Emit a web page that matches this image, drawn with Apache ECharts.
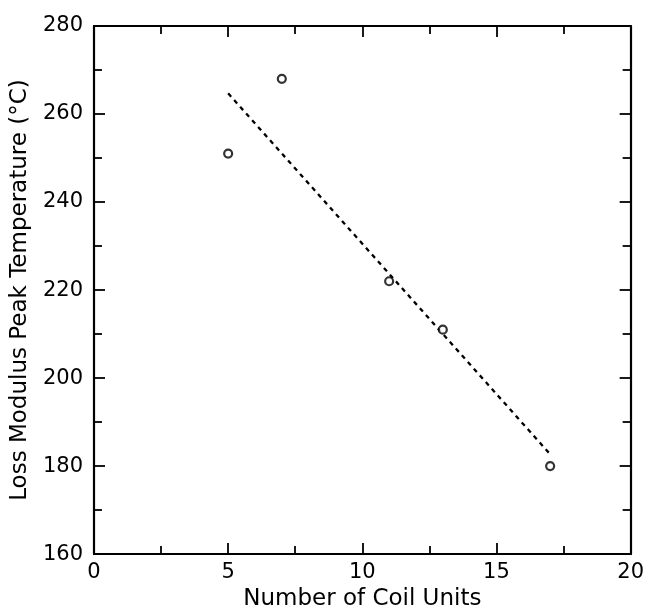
<!DOCTYPE html>
<html>
<head>
<meta charset="utf-8">
<script src="https://cdn.jsdelivr.net/npm/echarts@6/dist/echarts.min.js"></script>
<style>
html,body{margin:0;padding:0;background:#fff;}
#chart{width:647px;height:616px;}
</style>
</head>
<body>
<div id="chart"></div>
<script>
// Data
var coilUnits = [5, 7, 11, 13, 17];
var peakTemp = [251, 268, 222, 211, 180];
// Dashed fit line endpoints
var fitX = [5, 17];
var fitY = [264.7, 182.7];

var xTitle = 'Number of Coil Units';
var yTitle = 'Loss Modulus Peak Temperature (°C)';

var FONT = 'DejaVu Sans';

var pts = coilUnits.map(function (x, i) { return [x, peakTemp[i]]; });
var fit = fitX.map(function (x, i) { return [x, fitY[i]]; });

var chart = echarts.init(document.getElementById('chart'), null, {renderer: 'canvas'});

var axisLine = {show: true, onZero: false, lineStyle: {color: '#000', width: 2.2}};
var majorTick = {show: true, inside: true, length: 11, lineStyle: {color: '#000', width: 1.8}};
var minorTick = {show: true, splitNumber: 2, length: 8, lineStyle: {color: '#000', width: 1.8}};

chart.setOption({
  animation: false,
  backgroundColor: '#fff',
  grid: {left: 94, right: 15, top: 26, bottom: 52, containLabel: false},
  xAxis: [{
    type: 'value', position: 'bottom', min: 0, max: 20, interval: 5,
    axisLine: axisLine, axisTick: majorTick, minorTick: minorTick,
    splitLine: {show: false},
    axisLabel: {color: '#000', fontFamily: FONT, fontSize: 21, margin: 8},
    name: xTitle, nameLocation: 'middle', nameGap: 32,
    nameTextStyle: {color: '#000', fontFamily: FONT, fontSize: 23}
  }, {
    type: 'value', position: 'top', min: 0, max: 20, interval: 5,
    axisLine: axisLine, axisTick: majorTick, minorTick: minorTick,
    splitLine: {show: false}, axisLabel: {show: false}
  }],
  yAxis: [{
    type: 'value', position: 'left', min: 160, max: 280, interval: 20,
    axisLine: axisLine, axisTick: majorTick, minorTick: minorTick,
    splitLine: {show: false},
    axisLabel: {color: '#000', fontFamily: FONT, fontSize: 21, margin: 11},
    name: yTitle, nameLocation: 'middle', nameGap: 46, nameRotate: 90,
    nameTextStyle: {color: '#000', fontFamily: FONT, fontSize: 23}
  }, {
    type: 'value', position: 'right', min: 160, max: 280, interval: 20,
    axisLine: axisLine, axisTick: majorTick, minorTick: minorTick,
    splitLine: {show: false}, axisLabel: {show: false}
  }],
  series: [{
    type: 'line', data: fit, showSymbol: false, symbol: 'none',
    lineStyle: {color: '#000', width: 2.3, type: [4.5, 4.5]},
    z: 2
  }, {
    type: 'scatter', data: pts, symbol: 'circle', symbolSize: 8,
    itemStyle: {color: '#fff', borderColor: '#000', borderWidth: 2.2},
    z: 3
  }]
});
</script>
</body>
</html>
